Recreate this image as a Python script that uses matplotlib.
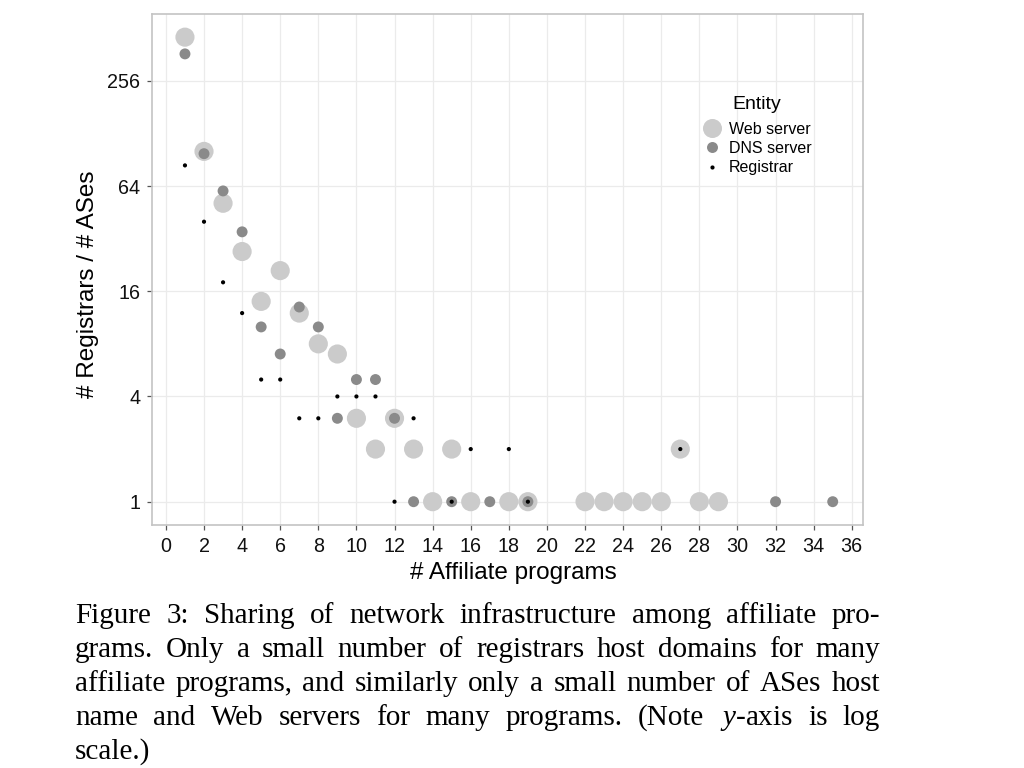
import matplotlib
matplotlib.use('Agg')
import matplotlib.pyplot as plt
from matplotlib.ticker import NullLocator
from matplotlib.lines import Line2D

plt.rcParams['font.family'] = ['Liberation Sans', 'DejaVu Sans']
plt.rcParams['mathtext.fontset'] = 'custom'
plt.rcParams['mathtext.it'] = 'Liberation Serif:italic'
plt.rcParams['mathtext.rm'] = 'Liberation Serif'

# ---- data ----
web_x = [1, 2, 3, 4, 5, 6, 7, 8, 9, 10, 11, 12, 13, 14, 15, 16, 18, 19, 22, 23, 24, 25, 26, 27, 28, 29]
web_y = [455, 101, 51, 27, 14, 21, 12, 8, 7, 3, 2, 3, 2, 1, 2, 1, 1, 1, 1, 1, 1, 1, 1, 2, 1, 1]

dns_x = [1, 2, 3, 4, 5, 6, 7, 8, 9, 10, 11, 12, 13, 15, 17, 19, 32, 35]
dns_y = [365, 98, 60, 35, 10, 7, 13, 10, 3, 5, 5, 3, 1, 1, 1, 1, 1, 1]

reg_x = [1, 2, 3, 4, 5, 6, 7, 8, 9, 10, 11, 12, 13, 15, 16, 18, 19, 27]
reg_y = [84, 40, 18, 12, 5, 5, 3, 3, 4, 4, 4, 1, 3, 1, 2, 2, 1, 2]

x_ticks = list(range(0, 37, 2))
y_ticks = [1, 4, 16, 64, 256]
y_tick_labels = ['1', '4', '16', '64', '256']

series_labels = ['Web server', 'DNS server', 'Registrar']
legend_title = 'Entity'
x_label = '# Affiliate programs'
y_label = '# Registrars / # ASes'

caption_lines = [
    "Figure 3: Sharing of network infrastructure among affiliate pro-",
    "grams. Only a small number of registrars host domains for many",
    "affiliate programs, and similarly only a small number of ASes host",
    "name and Web servers for many programs. (Note $y$-axis is log",
    "scale.)",
]

# ---- figure ----
W, H = 1024, 768
fig = plt.figure(figsize=(W / 100, H / 100), dpi=100)
ax = fig.add_axes([152 / W, 1 - 525 / H, (863 - 152) / W, (525 - 14) / H])

web_c, dns_c, reg_c = '#cbcbcb', '#8a8a8a', '#000000'
ax.scatter(web_x, web_y, s=190, c=web_c, edgecolors='none', zorder=3)
ax.scatter(dns_x, dns_y, s=62, c=dns_c, edgecolors='none', zorder=4)
ax.scatter(reg_x, reg_y, s=9, c=reg_c, edgecolors='none', zorder=5)

ax.set_yscale('log', base=2)
ax.set_xlim(-0.73, 36.59)
ax.set_ylim(2 ** -0.443, 2 ** 9.27)
ax.set_xticks(x_ticks)
ax.set_xticklabels([str(v) for v in x_ticks])
ax.set_yticks(y_ticks)
ax.set_yticklabels(y_tick_labels)
ax.yaxis.set_minor_locator(NullLocator())
ax.xaxis.set_minor_locator(NullLocator())

ax.grid(True, color='#ebebeb', linewidth=0.9, zorder=0)
ax.set_axisbelow(True)
for sp in ax.spines.values():
    sp.set_color('#c4c4c4')
    sp.set_linewidth(1.2)
ax.tick_params(axis='both', direction='out', length=3.5, width=0.9, color='#555555',
               labelsize=14.2, labelcolor='#111111', pad=5)

ax.set_xlabel(x_label, fontsize=17.5)
ax.set_ylabel(y_label, fontsize=17.5)
ax.xaxis.set_label_coords((513 - 152) / 711, (525 - 562) / 511)
ax.yaxis.set_label_coords((99 - 152) / 711, (525 - 284) / 511)

handles = [
    Line2D([], [], marker='o', linestyle='none', markersize=13.7, markerfacecolor=web_c, markeredgecolor='none'),
    Line2D([], [], marker='o', linestyle='none', markersize=7.9, markerfacecolor=dns_c, markeredgecolor='none'),
    Line2D([], [], marker='o', linestyle='none', markersize=3.0, markerfacecolor=reg_c, markeredgecolor='none'),
]
leg = ax.legend(handles, series_labels, title=legend_title, frameon=False,
                loc='upper left', bbox_to_anchor=(691 / W, 1 - 85 / H),
                bbox_transform=fig.transFigure, fontsize=11.5, title_fontsize=14,
                handlelength=1.2, handletextpad=0.45, labelspacing=0.28, borderpad=0.2)
leg._legend_box.align = 'center'
leg._legend_box.sep = 6

# ---- caption (justified) ----
fig.canvas.draw()
renderer = fig.canvas.get_renderer()
cap_fs = 21
left_px, right_px = 75, 880
baselines = [623, 657, 691, 725, 759]
for i, line in enumerate(caption_lines):
    words = line.split(' ')
    y = 1 - baselines[i] / H
    texts = [fig.text(0, y, w, fontsize=cap_fs, family='Liberation Serif', va='baseline', ha='left')
             for w in words]
    widths = [t.get_window_extent(renderer).width for t in texts]
    if i < len(caption_lines) - 1 and len(words) > 1:
        gap = (right_px - left_px - sum(widths)) / (len(words) - 1)
    else:
        gap = cap_fs * 0.25 * 100 / 72
    xp = left_px
    for t, wd in zip(texts, widths):
        t.set_x(xp / W)
        xp += wd + gap

fig.savefig('out.png', dpi=100)
